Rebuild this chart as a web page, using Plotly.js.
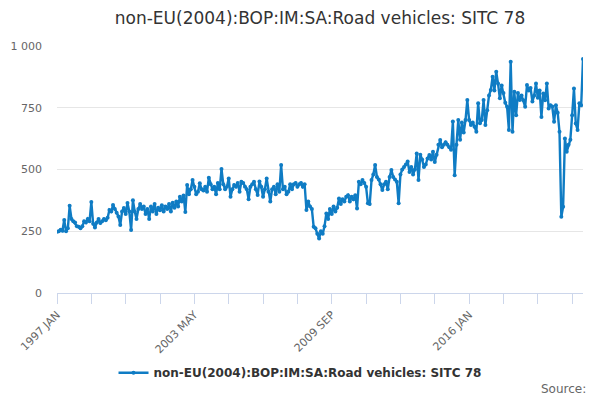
<!DOCTYPE html>
<html>
<head>
<meta charset="utf-8">
<script src="https://cdn.plot.ly/plotly-3.0.1.min.js"></script>
<style>
  html, body { margin: 0; padding: 0; background: #fff; }
  #chart { width: 600px; height: 400px; }
</style>
</head>
<body>
<div id="chart"></div>
<script>
const seriesName = "non-EU(2004):BOP:IM:SA:Road vehicles: SITC 78";
const monthNames = ["JAN", "FEB", "MAR", "APR", "MAY", "JUN", "JUL", "AUG", "SEP", "OCT", "NOV", "DEC"];
const firstYear = 1997;

// monthly values, 1997 JAN .. 2021 APR
const v1997 = [248, 250, 256, 252, 296, 250, 262, 353, 300, 290, 285, 270];
const v1998 = [268, 262, 270, 290, 285, 300, 290, 368, 280, 265, 285, 300];
const v1999 = [283, 290, 300, 295, 305, 336, 330, 356, 340, 325, 310, 275];
const v2000 = [330, 344, 320, 364, 330, 255, 376, 330, 300, 340, 360, 340];
const v2001 = [350, 320, 340, 300, 350, 330, 360, 320, 345, 335, 355, 330];
const v2002 = [350, 340, 360, 330, 365, 345, 370, 350, 390, 370, 395, 328];
const v2003 = [437, 400, 420, 457, 430, 400, 410, 444, 420, 415, 430, 410];
const v2004 = [467, 440, 420, 430, 400, 445, 420, 502, 440, 420, 430, 464];
const v2005 = [390, 420, 437, 430, 445, 410, 450, 445, 430, 420, 380, 430];
const v2006 = [440, 450, 420, 397, 451, 430, 390, 420, 464, 410, 370, 420];
const v2007 = [430, 400, 440, 410, 518, 420, 430, 400, 410, 440, 420, 440];
const v2008 = [445, 430, 440, 445, 430, 440, 336, 370, 350, 340, 268, 262];
const v2009 = [240, 221, 250, 240, 270, 322, 300, 340, 320, 350, 330, 345];
const v2010 = [383, 360, 380, 370, 390, 396, 370, 390, 380, 396, 342, 450];
const v2011 = [440, 457, 445, 430, 363, 360, 457, 480, 518, 470, 460, 440];
const v2012 = [417, 440, 450, 420, 470, 498, 470, 460, 450, 363, 480, 500];
const v2013 = [510, 520, 532, 490, 510, 480, 500, 565, 457, 560, 540, 510];
const v2014 = [520, 545, 559, 540, 572, 530, 560, 600, 619, 590, 600, 610];
const v2015 = [600, 590, 580, 694, 477, 600, 700, 620, 690, 650, 700, 781];
const v2016 = [700, 680, 690, 673, 653, 768, 687, 700, 781, 680, 740, 800];
const v2017 = [822, 876, 820, 896, 848, 788, 840, 810, 770, 754, 660, 936];
const v2018 = [653, 815, 720, 810, 781, 800, 780, 754, 842, 820, 830, 775];
const v2019 = [800, 848, 790, 820, 713, 808, 780, 848, 747, 760, 755, 693];
const v2020 = [760, 730, 653, 309, 349, 626, 572, 600, 620, 720, 828, 686];
const v2021 = [660, 768, 760, 947];

const values = [].concat(v1997, v1998, v1999, v2000, v2001, v2002, v2003, v2004,
    v2005, v2006, v2007, v2008, v2009, v2010, v2011, v2012, v2013, v2014,
    v2015, v2016, v2017, v2018, v2019, v2020, v2021);

const categories = values.map((_, i) =>
    (firstYear + Math.floor(i / 12)) + " " + monthNames[i % 12]);

const tickStep = 19;
const labelEvery = 4;
const tickIdx = [];
for (let i = 0; i < categories.length; i += tickStep) tickIdx.push(i);
const tickText = tickIdx.map((i, k) => (k % labelEvery === 0 ? categories[i] : ""));

const font = "DejaVu Sans, Verdana, sans-serif";

let trace = {
    name: seriesName,
    x: values.map((_, i) => i),
    y: values,
    text: categories,
    type: "scatter",
    mode: "lines+markers",
    line: { color: "#0f7cc4", width: 2.4 },
    marker: { color: "#0f7cc4", size: 4 },
    hovertemplate: "%{text}: %{y}<extra></extra>",
};

let layout = {
    width: 600,
    height: 400,
    margin: { l: 57, r: 17, t: 46, b: 107 },
    paper_bgcolor: "#ffffff",
    plot_bgcolor: "#ffffff",
    separators: ". ",
    font: { family: font, color: "#666666", size: 11 },
    title: {
        text: "non-EU(2004):BOP:IM:SA:Road vehicles: SITC 78",
        font: { family: font, size: 17, color: "#333333" },
        x: 0.5,
        xanchor: "center",
        xref: "paper",
        y: 0.955,
        yanchor: "middle",
    },
    showlegend: true,
    legend: {
        orientation: "h",
        x: 0.462,
        xanchor: "center",
        yref: "container",
        y: 0.068,
        yanchor: "middle",
        font: { family: font, size: 12, color: "#333333", weight: "bold" },
    },
    xaxis: {
        range: [0, categories.length - 1],
        tickmode: "array",
        tickvals: tickIdx,
        ticktext: tickText,
        tickangle: -45,
        ticks: "outside",
        ticklen: 10,
        tickcolor: "#ccd6eb",
        showline: true,
        linecolor: "#ccd6eb",
        showgrid: false,
        zeroline: false,
        fixedrange: true,
        automargin: false,
        tickfont: { family: font, size: 11, color: "#666666" },
    },
    yaxis: {
        range: [0, 1000],
        tickvals: [0, 250, 500, 750, 1000],
        tickformat: ",d",
        showgrid: true,
        gridcolor: "#e6e6e6",
        zeroline: false,
        showline: false,
        ticks: "",
        ticklabelstandoff: 14,
        fixedrange: true,
        automargin: false,
        tickfont: { family: font, size: 11, color: "#666666" },
    },
    annotations: [{
        text: "Source:",
        xref: "paper",
        yref: "paper",
        x: 1.01,
        y: -0.387,
        xanchor: "right",
        yanchor: "middle",
        showarrow: false,
        font: { family: font, size: 12, color: "#666666" },
    }],
};

let config = { responsive: false, displayModeBar: false, staticPlot: false };
Plotly.newPlot("chart", [trace], layout, config);
</script>
</body>
</html>
